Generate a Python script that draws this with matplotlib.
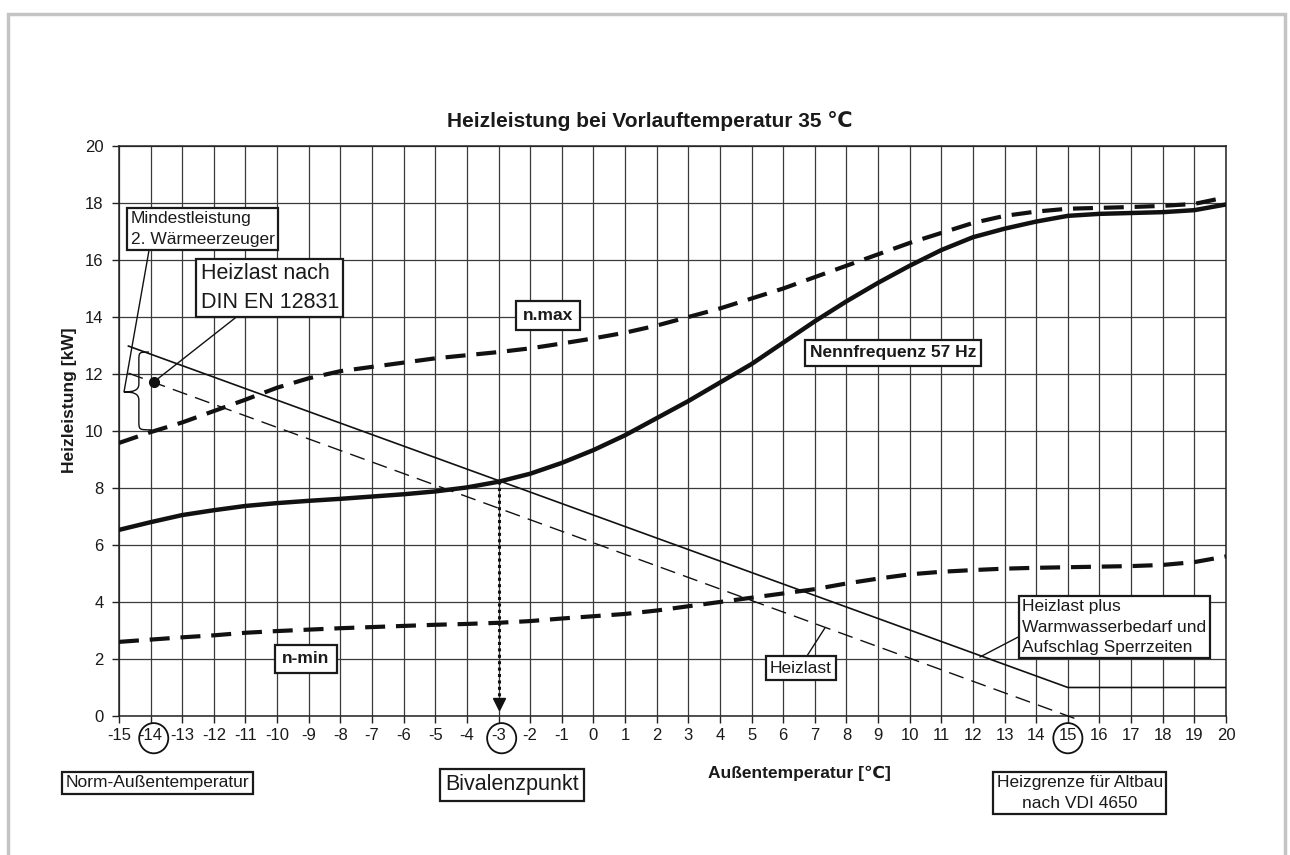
import matplotlib.pyplot as plt
from matplotlib.patches import Ellipse, Rectangle, PathPatch
from matplotlib.path import Path
from matplotlib.transforms import blended_transform_factory

plt.rcParams['font.family'] = ['Liberation Sans', 'DejaVu Sans']
plt.rcParams['axes.unicode_minus'] = False

# Außentemperatur-Stützstellen
temps = list(range(-15, 21))

# Heizleistung bei Nennfrequenz 57 Hz
nennfrequenz = [6.53, 6.80, 7.05, 7.22, 7.37, 7.47, 7.55, 7.62, 7.70, 7.78,
                7.88, 8.02, 8.22, 8.50, 8.88, 9.33, 9.85, 10.45, 11.05, 11.70,
                12.35, 13.10, 13.85, 14.55, 15.20, 15.80, 16.35, 16.80, 17.10, 17.35,
                17.55, 17.62, 17.65, 17.68, 17.75, 17.95]

# Heizleistung n.max
n_max = [9.58, 9.96, 10.30, 10.70, 11.10, 11.52, 11.85, 12.10, 12.25, 12.40,
         12.55, 12.66, 12.77, 12.90, 13.07, 13.25, 13.45, 13.70, 14.00, 14.30,
         14.65, 15.00, 15.40, 15.80, 16.20, 16.60, 16.95, 17.30, 17.55, 17.70,
         17.80, 17.83, 17.86, 17.90, 17.97, 18.20]

# Heizleistung n-min
n_min = [2.60, 2.68, 2.76, 2.83, 2.92, 2.98, 3.03, 3.08, 3.12, 3.16,
         3.20, 3.23, 3.27, 3.33, 3.42, 3.50, 3.58, 3.70, 3.85, 4.00,
         4.15, 4.30, 4.45, 4.65, 4.82, 4.97, 5.06, 5.12, 5.17, 5.20,
         5.22, 5.24, 5.26, 5.30, 5.40, 5.60]

# Heizlast-Geraden
heizlast_x = [-14.7, 15.4]
heizlast_y = [12.03, -0.16]
heizlast_plus_x = [-14.7, 15, 20]
heizlast_plus_y = [12.98, 1.0, 1.0]
norm_temp, norm_last = -13.9, 11.72
bivalenz_x, bivalenz_y = -3, 8.25
heizgrenze = 15

x_ticks = list(range(-15, 21))
y_ticks = list(range(0, 21, 2))

fig = plt.figure(figsize=(12.9, 8.55), dpi=100)
ax = fig.add_axes([0.0922, 0.1626, 0.8582, 0.6666])

# grauer Rahmen um die ganze Grafik
fig.patches.append(Rectangle((0.0062, -0.05), 0.9899, 1.0336, transform=fig.transFigure,
                             fill=False, ec='#c4c4c4', lw=2.5))

ax.set_xlim(-15, 20)
ax.set_ylim(0, 20)
ax.set_xticks(x_ticks)
ax.set_yticks(y_ticks)
ax.grid(True, color='#3a3a3a', lw=0.9)
ax.set_axisbelow(True)
for s in ax.spines.values():
    s.set_color('#222222')
    s.set_linewidth(1.1)
ax.tick_params(direction='out', length=5, width=1, color='#222222',
               labelsize=12, labelcolor='#1a1a1a')
ax.tick_params(axis='x', pad=4)
ax.tick_params(axis='y', pad=6)

ink = '#111111'
ax.plot(temps, nennfrequenz, color=ink, lw=3.2, solid_capstyle='round', zorder=3)
ax.plot(temps, n_max, color=ink, lw=3.0, dashes=(4.8, 2.6), zorder=3)
ax.plot(temps, n_min, color=ink, lw=3.0, dashes=(4.8, 2.6), zorder=3)
ax.plot(heizlast_plus_x, heizlast_plus_y, color=ink, lw=1.2, zorder=3)
ax.plot(heizlast_x, heizlast_y, color=ink, lw=1.0, dashes=(11, 6), zorder=3, clip_on=False)
ax.plot([norm_temp], [norm_last], 'o', color=ink, ms=7, zorder=4)

# Bivalenzpunkt
ax.plot([bivalenz_x, bivalenz_x], [bivalenz_y, 0.55], color=ink, lw=2.2,
        ls=(0, (1, 1.1)), zorder=3)
ax.plot([bivalenz_x], [0.42], marker='v', color=ink, ms=9, zorder=4)

# Kreise um markante Tick-Beschriftungen
bt = blended_transform_factory(ax.transData, ax.transAxes)
for xc in [norm_temp, bivalenz_x + 0.1, heizgrenze]:
    ax.add_patch(Ellipse((xc, -0.039), 0.92, 0.053, transform=bt, fill=False,
                         ec=ink, lw=1.3, clip_on=False))

# geschweifte Klammer "Mindestleistung"
C, L, M = Path.CURVE4, Path.LINETO, Path.MOVETO
verts = [(-14.05, 12.77), (-14.37, 12.77), (-14.37, 12.77), (-14.37, 12.45),
         (-14.37, 11.65),
         (-14.37, 11.42), (-14.55, 11.37), (-14.84, 11.37),
         (-14.55, 11.37), (-14.37, 11.32), (-14.37, 11.08),
         (-14.37, 10.35),
         (-14.37, 10.04), (-14.37, 10.04), (-13.96, 10.04)]
codes = [M, C, C, C, L, C, C, C, C, C, C, L, C, C, C]
ax.add_patch(PathPatch(Path(verts, codes), fill=False, ec=ink, lw=1.0, zorder=4))


def box(text, xytext, xy=None, relpos=(0.5, 0.5), fs=12.5, bold=False,
        ha='center', pad=0.3):
    bb = dict(boxstyle=f'square,pad={pad}', fc='white', ec='#1a1a1a', lw=1.6)
    w = 'bold' if bold else 'normal'
    kw = dict(ha=ha, va='center', fontsize=fs, fontweight=w, bbox=bb, zorder=6,
              color='#1a1a1a', multialignment=ha, linespacing=1.45)
    if xy is None:
        ax.text(*xytext, text, clip_on=False, **kw)
    else:
        ax.annotate(text, xy=xy, xytext=xytext, annotation_clip=False,
                    arrowprops=dict(arrowstyle='-', color=ink, lw=1.0,
                                    relpos=relpos, shrinkA=0, shrinkB=0), **kw)


box('Mindestleistung\n2. Wärmeerzeuger', (-14.62, 17.09), xy=(-14.84, 11.37),
    relpos=(0.13, 0), fs=12.5, ha='left', pad=0.2)
box('Heizlast nach\nDIN EN 12831', (-12.42, 15.02), xy=(norm_temp, norm_last),
    relpos=(0.3, 0), fs=15.5, ha='left', pad=0.2)
box('n.max', (-1.44, 14.04), bold=True, fs=12.5, pad=0.4)
box('Nennfrequenz 57 Hz', (9.47, 12.74), bold=True, fs=12.5, pad=0.3)
box('n-min', (-9.09, 2.0), bold=True, fs=12.5, pad=0.4)
box('Heizlast', (6.56, 1.68), xy=(7.32, 3.09), relpos=(0.55, 1), fs=12.5, pad=0.25)
box('Heizlast plus\nWarmwasserbedarf und\nAufschlag Sperrzeiten', (13.56, 3.12),
    xy=(12.22, 2.07), relpos=(0, 0.36), fs=12.5, ha='left', pad=0.2)
box('Norm-Außentemperatur', (-13.77, -2.35), fs=12.5, pad=0.22)
box('Bivalenzpunkt', (-2.58, -2.42), fs=15.5, pad=0.25)
box('Heizgrenze für Altbau\nnach VDI 4650', (15.38, -2.7), fs=12.5, pad=0.2)

ax.set_xlabel('Außentemperatur [℃]', fontsize=12.5, fontweight='bold', color='#1a1a1a')
ax.xaxis.set_label_coords(0.615, -0.088)
ax.set_ylabel('Heizleistung [kW]', fontsize=12.5, fontweight='bold', color='#1a1a1a')
ax.yaxis.set_label_coords(-0.038, 0.554)
fig.text(0.504, 0.858, 'Heizleistung bei Vorlauftemperatur 35 ℃', ha='center',
         va='center', fontsize=15, fontweight='bold', color='#1a1a1a')

fig.savefig('out.png', dpi=100)
